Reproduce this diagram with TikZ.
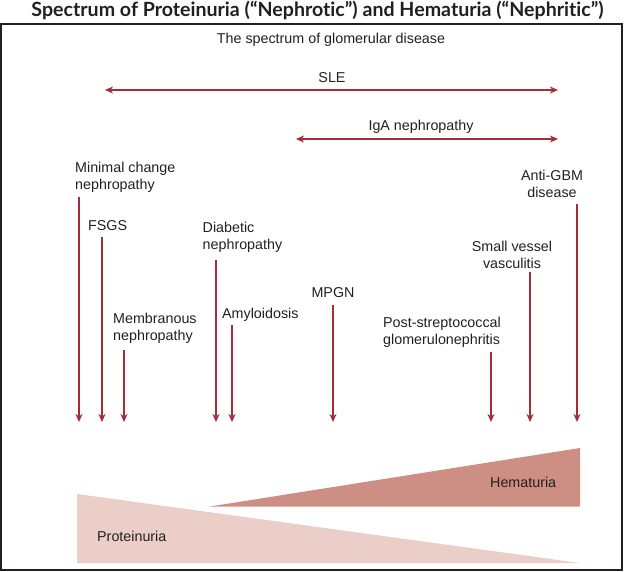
\documentclass[tikz,border=0pt]{standalone}
\usepackage{fontspec}
\setmainfont{Liberation Sans}
\newfontfamily\titlefont{Lato}[Ligatures=CommonOff]
\usetikzlibrary{arrows.meta}
\definecolor{arr}{RGB}{165,45,55}
\definecolor{hem}{RGB}{205,142,132}
\definecolor{pro}{RGB}{234,206,199}
\definecolor{txt}{RGB}{35,31,32}
\begin{document}
\begin{tikzpicture}[x=1pt,y=-1pt,
  lbl/.style={inner sep=0pt,text=txt,font=\fontsize{14.3}{17.3}\selectfont},
  conn/.style={draw=arr,line width=1.4pt,-{Stealth[length=8pt,width=7pt,inset=2.5pt]}},
  dconn/.style={draw=arr,line width=1.4pt,{Stealth[length=8pt,width=7pt,inset=2.5pt]}-{Stealth[length=8pt,width=7pt,inset=2.5pt]}}]
\useasboundingbox (0,0) rectangle (624,572);
% title and frame
\node[inner sep=0pt,text=txt,anchor=base,font=\titlefont\bfseries\fontsize{19.6}{22}\selectfont] (title) at (317.5,16.5) {Spectrum of Proteinuria (“Nephrotic”) and Hematuria (“Nephritic”)};
\draw[txt,line width=1.5pt] (1,24) rectangle (622,570);
\node[lbl,anchor=north] (spec) at (331,33) {The spectrum of glomerular disease};
% range arrows
\node[lbl,anchor=north] (sle) at (332,72) {SLE};
\coordinate (sleL) at (105,90);
\coordinate (sleR) at (558,90);
\draw[dconn] (sleL) -- (sleR);
\node[lbl,anchor=north] (iga) at (421,120) {IgA nephropathy};
\coordinate (igaL) at (296,139);
\coordinate (igaR) at (558,139);
\draw[dconn] (igaL) -- (igaR);
% disease labels
\node[lbl,anchor=north west,align=left] (mc) at (75,161.5) {Minimal change\\nephropathy};
\node[lbl,anchor=north west] (fsgs) at (88,220) {FSGS};
\node[lbl,anchor=north west,align=left] (memb) at (113,313) {Membranous\\nephropathy};
\node[lbl,anchor=north west,align=left] (diab) at (202.5,221.5) {Diabetic\\nephropathy};
\node[lbl,anchor=north west] (amyl) at (222,308) {Amyloidosis};
\node[lbl,anchor=north] (mpgn) at (333,287) {MPGN};
\node[lbl,anchor=north west,align=left] (post) at (383,317) {Post-streptococcal\\glomerulonephritis};
\node[lbl,anchor=north,align=center] (svv) at (512,240.5) {Small vessel\\vasculitis};
\node[lbl,anchor=north,align=center] (agbm) at (552,170) {Anti-GBM\\disease};
% arrow coordinates
\coordinate (mcS) at (79,197);   \coordinate (mcE) at (79,422);
\coordinate (fsS) at (102,237);  \coordinate (fsE) at (102,422);
\coordinate (meS) at (124,350);  \coordinate (meE) at (124,422);
\coordinate (diS) at (216,260);  \coordinate (diE) at (216,422);
\coordinate (amS) at (232,325);  \coordinate (amE) at (232,422);
\coordinate (mpS) at (333,305);  \coordinate (mpE) at (333,422);
\coordinate (poS) at (491,352);  \coordinate (poE) at (491,422);
\coordinate (svS) at (530,272);  \coordinate (svE) at (530,422);
\coordinate (agS) at (577,204);  \coordinate (agE) at (577,422);
\draw[conn] (mcS) -- (mcE);
\draw[conn] (fsS) -- (fsE);
\draw[conn] (meS) -- (meE);
\draw[conn] (diS) -- (diE);
\draw[conn] (amS) -- (amE);
\draw[conn] (mpS) -- (mpE);
\draw[conn] (poS) -- (poE);
\draw[conn] (svS) -- (svE);
\draw[conn] (agS) -- (agE);
% wedges
\fill[pro] (77,494) -- (77,563) -- (580,563) -- cycle;
\fill[hem] (210,506.5) -- (580,448) -- (580,506.5) -- cycle;
\node[lbl,anchor=north west] (hema) at (490,477) {Hematuria};
\node[lbl,anchor=north west] (prot) at (97,531) {Proteinuria};
\end{tikzpicture}
\end{document}
